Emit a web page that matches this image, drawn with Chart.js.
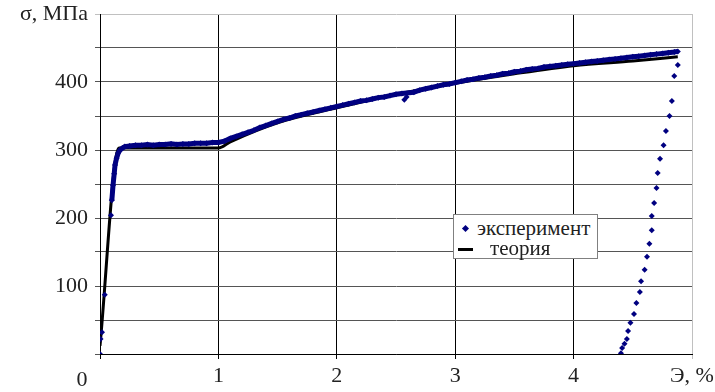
<!DOCTYPE html>
<html>
<head>
<meta charset="utf-8">
<script src="https://cdn.jsdelivr.net/npm/chart.js@4"></script>
<style>
  body { margin: 0; background: #fff; }
  #wrap { position: relative; width: 715px; height: 392px; }
  #legend {
    position: absolute; left: 453px; top: 214px; width: 143px; height: 43px;
    border: 1px solid #808080; background: #fff;
    font-family: 'Liberation Serif', serif; font-size: 21px; color: #222;
  }
  #legend .row { position: absolute; left: 0; height: 20px; line-height: 20px; white-space: nowrap; }
  #legend .dot { position: absolute; left: 9px; top: 8px; width: 5px; height: 5px; background: #000080; transform: rotate(45deg); }
  #legend .dash { position: absolute; left: 4px; top: 10px; width: 15px; height: 3px; background: #000; }
</style>
</head>
<body>
<div id="wrap">
  <canvas id="chart"></canvas>
  <div id="legend">
    <div class="row" style="top:3px;"><span class="dot"></span><span style="position:absolute;left:23px;">эксперимент</span></div>
    <div class="row" style="top:23px;"><span class="dash"></span><span style="position:absolute;left:36px;">теория</span></div>
  </div>
</div>
<script>
// experiment, dense loading branch (strain %, stress MPa)
const expLoadX = [0.10, 0.11, 0.12, 0.127, 0.14, 0.155, 0.17, 0.19, 0.21, 0.25,
  0.3, 0.35, 0.4, 0.45, 0.5, 0.55, 0.6, 0.65, 0.7, 0.75, 0.8, 0.85, 0.9, 0.95, 1.0,
  1.05, 1.1, 1.15, 1.2, 1.25, 1.3, 1.35, 1.4, 1.45, 1.5, 1.55, 1.6, 1.65, 1.7, 1.75, 1.8, 1.85, 1.9, 1.95, 2.0,
  2.05, 2.1, 2.15, 2.2, 2.25, 2.3, 2.35, 2.4, 2.45, 2.5, 2.55, 2.65, 2.7, 2.75, 2.8, 2.85, 2.9, 2.95, 3.0,
  3.05, 3.1, 3.15, 3.2, 3.25, 3.3, 3.35, 3.4, 3.45, 3.5, 3.55, 3.6, 3.65, 3.7, 3.75, 3.8, 3.85, 3.9, 3.95, 4.0,
  4.05, 4.1, 4.15, 4.2, 4.25, 4.3, 4.35, 4.4, 4.45, 4.5, 4.55, 4.6, 4.65, 4.7, 4.75, 4.8, 4.85, 4.88];
const expLoadY = [226, 248, 265, 278, 288, 296, 300, 303, 305, 306,
  307, 307, 308, 307, 308, 308, 309, 308, 309, 309, 310, 310, 310, 311, 311,
  313, 317, 320, 323, 326, 329, 333, 336, 339, 342, 345, 347, 350, 352, 354, 356, 358, 360, 362, 364,
  366, 368, 370, 372, 373, 375, 377, 378, 380, 382, 383, 385, 388, 390, 392, 394, 396, 397, 399,
  401, 403, 404, 406, 407, 409, 410, 412, 413, 415, 416, 418, 419, 420, 422, 423, 424, 425, 426, 427,
  428, 429, 430, 431, 432, 433, 434, 435, 436, 437, 438, 439, 440, 441, 442, 443, 444, 445];
// experiment, separate points: start of loading, dip near 2.6 % and unloading branch
const expPointsX = [0, 0.005, 0.017, 0.04, 0.093, 2.57, 2.59,
  4.88, 4.85, 4.83, 4.81, 4.78, 4.76, 4.73, 4.71, 4.70, 4.68, 4.66, 4.66, 4.64, 4.62, 4.60,
  4.57, 4.56, 4.53, 4.51, 4.48, 4.46, 4.45, 4.43, 4.41, 4.40];
const expPointsY = [0, 22, 32, 87, 204, 374, 378,
  425, 409, 372, 350, 328, 307, 287, 266, 244, 222, 203, 182, 162, 143, 124,
  107, 91, 75, 59, 46, 34, 22, 15, 9, 1];
// theory
const theoryX = [0, 0.16, 1.0, 1.1, 1.5, 2.0, 2.5, 3.0, 3.5, 4.0, 4.5, 4.88];
const theoryY = [12, 303, 303, 312, 340, 362, 382, 398, 412, 424, 431, 437];

const xTicks = [0, 1, 2, 3, 4, 5];
const xTickLabels = ['', '1', '2', '3', '4', 'Э, %'];

const toPts = (xs, ys) => xs.map((x, i) => ({ x: x, y: ys[i] }));
const family = "'Liberation Serif', serif";
const font = { family: family, size: 22 };

const zeroLabel = {
  id: 'zeroLabel',
  afterDraw(chart) {
    const c = chart.ctx, xs = chart.scales.x;
    c.save();
    c.font = '22px ' + family;
    c.fillStyle = '#222';
    c.textAlign = 'center';
    c.textBaseline = 'middle';
    c.fillText('0', xs.getPixelForValue(0) - 18, chart.chartArea.bottom + 26);
    c.restore();
  }
};

new Chart(document.getElementById('chart'), {
  type: 'scatter',
  data: {
    datasets: [{
      label: 'эксперимент',
      data: toPts(expLoadX, expLoadY),
      showLine: true,
      borderColor: '#000080',
      borderWidth: 5,
      backgroundColor: '#000080',
      pointStyle: 'rectRot',
      pointRadius: 3,
      pointBorderWidth: 0
    }, {
      label: 'эксперимент',
      data: toPts(expPointsX, expPointsY),
      showLine: false,
      backgroundColor: '#000080',
      borderColor: '#000080',
      pointStyle: 'rectRot',
      pointRadius: 3,
      pointBorderWidth: 0
    }, {
      label: 'теория',
      data: toPts(theoryX, theoryY),
      showLine: true,
      borderColor: '#000',
      borderWidth: 3,
      pointRadius: 0,
      cubicInterpolationMode: 'monotone'
    }]
  },
  options: {
    responsive: true,
    maintainAspectRatio: false,
    animation: false,
    layout: { padding: { top: 14, right: 23, left: 0, bottom: 0 } },
    plugins: { legend: { display: false }, tooltip: { enabled: false } },
    scales: {
      x: {
        type: 'linear',
        min: 0,
        max: 5,
        afterBuildTicks: s => { s.ticks = xTicks.map(v => ({ value: v })); },
        afterFit: s => { s.height = 38; s.paddingLeft = 0; s.paddingRight = 0; },
        ticks: {
          font: font,
          color: '#222',
          padding: 4,
          maxRotation: 0,
          autoSkip: false,
          callback: (v) => xTickLabels[xTicks.indexOf(v)]
        },
        grid: {
          color: c => c.tick && c.tick.value === 5 ? '#c0c0c0' : '#000',
          tickLength: 5
        },
        border: { color: '#000' }
      },
      y: {
        min: 0,
        max: 500,
        afterFit: s => { s.width = 100; s.paddingTop = 0; s.paddingBottom = 0; },
        ticks: {
          stepSize: 50,
          font: font,
          color: '#222',
          padding: 7,
          callback: v => v === 500 ? 'σ, МПа' : (v % 100 === 0 && v > 0 ? String(v) : '')
        },
        grid: {
          color: c => c.tick && c.tick.value === 500 ? '#c0c0c0' : '#555',
          tickLength: 5
        },
        border: { color: '#000' }
      }
    }
  },
  plugins: [zeroLabel]
});
</script>
</body>
</html>
